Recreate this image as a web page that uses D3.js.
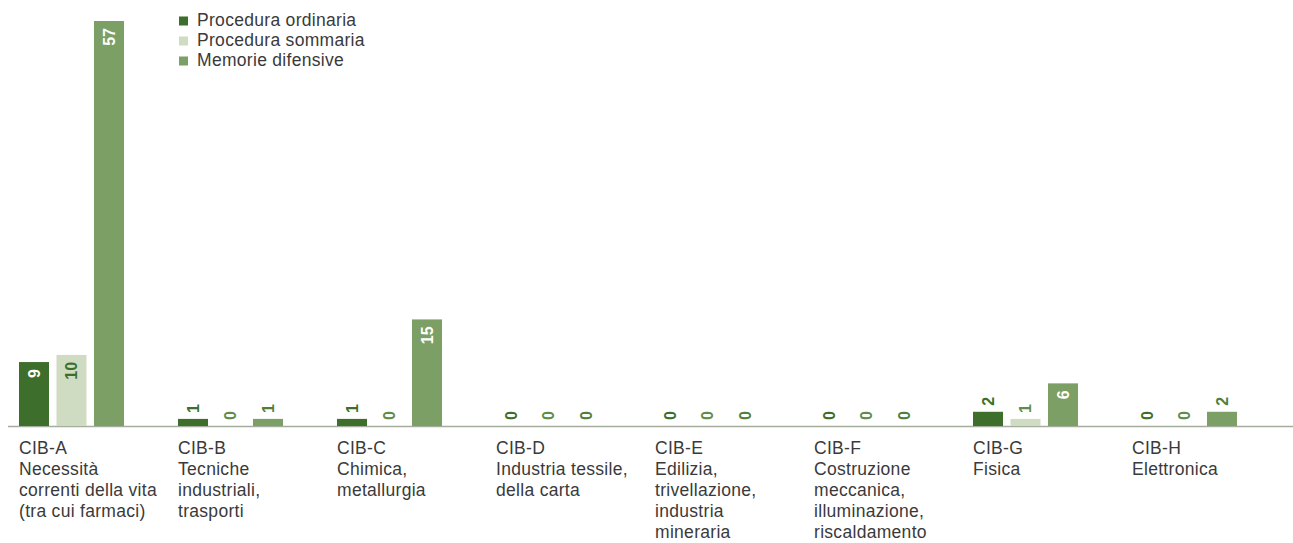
<!DOCTYPE html>
<html><head><meta charset="utf-8">
<script src="https://cdn.jsdelivr.net/npm/d3@7"></script>
<style>body{margin:0;background:#fff}svg{display:block}</style>
</head><body>
<svg id="c" width="1293" height="543"></svg>
<script>
const categories = [
  ["CIB-A","Necessità","correnti della vita","(tra cui farmaci)"],
  ["CIB-B","Tecniche","industriali,","trasporti"],
  ["CIB-C","Chimica,","metallurgia"],
  ["CIB-D","Industria tessile,","della carta"],
  ["CIB-E","Edilizia,","trivellazione,","industria","mineraria"],
  ["CIB-F","Costruzione","meccanica,","illuminazione,","riscaldamento"],
  ["CIB-G","Fisica"],
  ["CIB-H","Elettronica"]
];
const seriesNames = ["Procedura ordinaria","Procedura sommaria","Memorie difensive"];
const ordinaria = [9,1,1,0,0,0,2,0];
const sommaria  = [10,0,0,0,0,0,1,0];
const memorie   = [57,1,15,0,0,0,6,2];
const colors = ["#3e6e2b","#cfdcc1","#7b9f65"];
const insideText = ["#ffffff","#3e6e2b","#ffffff"];
const outsideText = ["#3e6e2b","#5f8d48","#4f7f3a"];

const series = [ordinaria, sommaria, memorie];
const svg = d3.select("#c");
const font = "'Liberation Sans', Arial, Helvetica, sans-serif";
const textFont = "'Liberation Sans', Arial, Helvetica, sans-serif";

const x0 = d3.scaleBand().domain(d3.range(categories.length)).range([19, 19+8*159]).paddingInner(0).paddingOuter(0);
const x1 = d3.scaleBand().domain(d3.range(3)).range([0,105]).paddingInner(0.2).paddingOuter(0);
const y = d3.scaleLinear().domain([0,57]).range([426,21]);

// axis line
svg.append("line").attr("x1",8).attr("x2",1293).attr("y1",y(0)+0.5).attr("y2",y(0)+0.5)
  .attr("stroke","#a5ad9f").attr("stroke-width",1.5);

const g = svg.append("g");
categories.forEach((cat,i)=>{
  series.forEach((s,j)=>{
    const v = s[i];
    const bx = x0(i)+x1(j);
    const top = y(v);
    g.append("rect").attr("x",bx).attr("y",top).attr("width",x1.bandwidth())
      .attr("height",y(0)-top).attr("fill",colors[j]);
    const h = y(0)-top;
    const label = String(v);
    const tw = label.length*9;
    const inside = h > tw + 12;
    const cx = bx + x1.bandwidth()/2;
    let ty = inside ? top + 7 : top - 6;
    g.append("text")
      .attr("transform",`translate(${cx},${ty}) rotate(-90)`)
      .attr("text-anchor", inside ? "end" : "start")
      .attr("dominant-baseline","central")
      .attr("font-family",font).attr("font-weight","bold").attr("font-size",16)
      .attr("fill", inside ? insideText[j] : outsideText[j])
      .text(label);
  });
  const t = g.append("text").attr("font-family",textFont).attr("font-size",17.5)
    .attr("letter-spacing",0.3).attr("fill","#3a3a3a");
  cat.forEach((line,k)=>{
    t.append("tspan").attr("x",x0(i)).attr("y",454+k*20.9).text(line);
  });
});

// legend
const lg = svg.append("g");
seriesNames.forEach((n,j)=>{
  lg.append("rect").attr("x",179).attr("y",16.5+j*20).attr("width",9).attr("height",9).attr("fill",colors[j]);
  lg.append("text").attr("x",197).attr("y",26+j*20).attr("font-family",textFont).attr("font-size",17.5)
    .attr("letter-spacing",0.3).attr("fill","#3a3a3a").text(n);
});
</script>
</body></html>
